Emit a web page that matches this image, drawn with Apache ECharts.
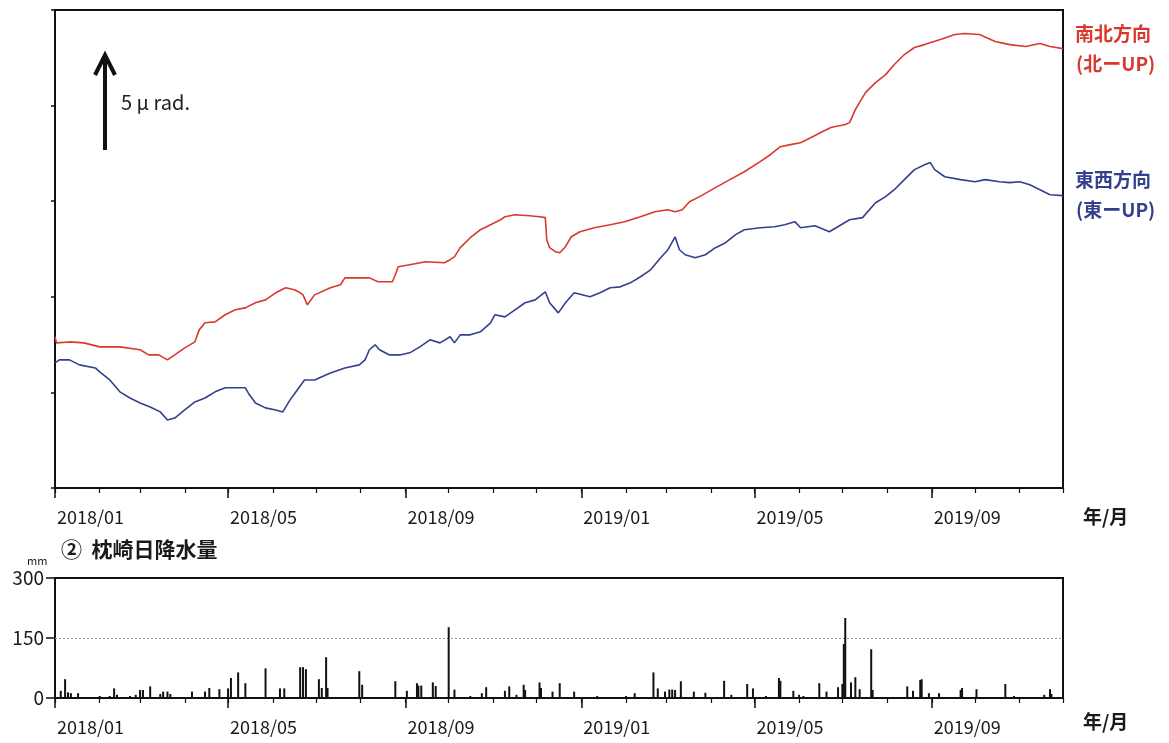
<!DOCTYPE html>
<html><head><meta charset="utf-8">
<script src="https://cdn.jsdelivr.net/npm/echarts@6/dist/echarts.min.js"></script>
<style>html,body{margin:0;padding:0;background:#fff}#c{width:1169px;height:743px}</style>
</head><body><div id="c"></div>
<script>
// 南北方向 tilt (μrad, relative)
const nsDates = ['2018-01-01','2018-01-02','2018-01-11','2018-01-21','2018-02-01','2018-02-15','2018-03-01','2018-03-07','2018-03-14','2018-03-20',
'2018-03-25','2018-04-01','2018-04-08','2018-04-11','2018-04-15','2018-04-22','2018-04-29','2018-05-06','2018-05-13','2018-05-20',
'2018-05-27','2018-06-03','2018-06-10','2018-06-16','2018-06-20','2018-06-22','2018-06-25','2018-06-30','2018-07-11','2018-07-18',
'2018-07-21','2018-07-28','2018-08-07','2018-08-13','2018-08-23','2018-08-25','2018-08-27','2018-09-04','2018-09-15','2018-09-28',
'2018-10-02','2018-10-05','2018-10-09','2018-10-16','2018-10-23','2018-10-30','2018-11-06','2018-11-09','2018-11-16','2018-11-26',
'2018-12-03','2018-12-07','2018-12-08','2018-12-10','2018-12-14','2018-12-17','2018-12-21','2018-12-25','2018-12-31','2019-01-10',
'2019-01-21','2019-01-31','2019-02-11','2019-02-21','2019-03-02','2019-03-07','2019-03-12','2019-03-17','2019-03-24','2019-04-04',
'2019-04-14','2019-04-24','2019-05-05','2019-05-12','2019-05-19','2019-05-26','2019-06-02','2019-06-09','2019-06-16','2019-06-23',
'2019-07-03','2019-07-06','2019-07-10','2019-07-17','2019-07-24','2019-07-31','2019-08-06','2019-08-13','2019-08-20','2019-08-27',
'2019-09-07','2019-09-17','2019-09-24','2019-10-04','2019-10-15','2019-10-25','2019-11-05','2019-11-15','2019-11-22','2019-12-01'];
const nsValues = [7.91,7.59,7.64,7.59,7.38,7.38,7.23,6.96,6.96,6.70,
6.96,7.33,7.64,8.27,8.64,8.69,9.06,9.32,9.42,9.69,
9.84,10.21,10.47,10.37,10.21,10.10,9.58,10.10,10.47,10.63,
10.99,10.99,10.99,10.79,10.79,11.15,11.57,11.68,11.83,11.78,
11.94,12.09,12.57,13.09,13.51,13.77,14.03,14.19,14.29,14.24,
14.19,14.14,12.98,12.57,12.36,12.30,12.62,13.14,13.40,13.61,
13.77,13.93,14.19,14.45,14.55,14.45,14.55,14.97,15.24,15.71,
16.13,16.54,17.07,17.43,17.85,17.96,18.06,18.32,18.59,18.85,
19.01,19.11,19.79,20.68,21.20,21.62,22.15,22.67,23.04,23.19,
23.46,23.72,23.77,23.72,23.35,23.19,23.09,23.25,23.09,22.98];

// 東西方向 tilt (μrad, relative)
const ewDates = ['2018-01-01','2018-01-04','2018-01-11','2018-01-18','2018-01-29','2018-02-01','2018-02-08','2018-02-15','2018-02-22','2018-03-01',
'2018-03-08','2018-03-15','2018-03-20','2018-03-25','2018-04-01','2018-04-08','2018-04-15','2018-04-22','2018-04-29','2018-05-13',
'2018-05-15','2018-05-20','2018-05-27','2018-06-03','2018-06-08','2018-06-13','2018-06-16','2018-06-23','2018-06-30','2018-07-11',
'2018-07-21','2018-07-31','2018-08-04','2018-08-07','2018-08-11','2018-08-14','2018-08-21','2018-08-28','2018-09-04','2018-09-11',
'2018-09-18','2018-09-25','2018-10-02','2018-10-05','2018-10-09','2018-10-16','2018-10-23','2018-10-30','2018-11-02','2018-11-09',
'2018-11-16','2018-11-23','2018-11-30','2018-12-07','2018-12-10','2018-12-16','2018-12-21','2018-12-27','2019-01-07','2019-01-14',
'2019-01-21','2019-01-28','2019-02-04','2019-02-11','2019-02-18','2019-02-25','2019-03-02','2019-03-07','2019-03-10','2019-03-14',
'2019-03-21','2019-03-28','2019-04-04','2019-04-11','2019-04-18','2019-04-24','2019-05-05','2019-05-15','2019-05-22','2019-05-29',
'2019-06-02','2019-06-12','2019-06-22','2019-07-06','2019-07-15','2019-07-24','2019-07-31','2019-08-06','2019-08-13','2019-08-20',
'2019-08-27','2019-08-31','2019-09-03','2019-09-10','2019-09-21','2019-10-01','2019-10-08','2019-10-18','2019-10-25','2019-11-01',
'2019-11-08','2019-11-15','2019-11-22','2019-12-01'];
const ewValues = [6.54,6.70,6.70,6.44,6.28,6.07,5.65,5.03,4.71,4.45,
4.24,3.98,3.56,3.66,4.08,4.50,4.71,5.03,5.24,5.24,
4.97,4.45,4.19,4.08,3.98,4.61,4.92,5.65,5.65,6.02,
6.28,6.44,6.70,7.23,7.49,7.23,6.96,6.96,7.07,7.38,
7.75,7.59,7.91,7.59,8.01,8.01,8.17,8.64,9.06,8.95,
9.32,9.69,9.84,10.26,9.69,9.16,9.69,10.21,10.00,10.21,
10.47,10.52,10.73,11.05,11.41,12.04,12.46,13.14,12.46,12.20,
12.04,12.20,12.57,12.83,13.25,13.51,13.61,13.66,13.77,13.93,
13.61,13.72,13.40,14.03,14.14,14.92,15.24,15.60,16.13,16.65,
16.91,17.02,16.65,16.28,16.13,16.02,16.13,16.02,15.97,16.02,
15.86,15.60,15.34,15.29];

// 枕崎 daily precipitation (mm)
const rainDates = ['2018-01-05','2018-01-08','2018-01-10','2018-01-12','2018-01-17','2018-02-01','2018-02-08','2018-02-11','2018-02-13','2018-02-22',
'2018-02-26','2018-03-01','2018-03-03','2018-03-08','2018-03-15','2018-03-17','2018-03-20','2018-03-22','2018-04-06','2018-04-15',
'2018-04-18','2018-04-25','2018-05-01','2018-05-03','2018-05-08','2018-05-13','2018-05-27','2018-06-06','2018-06-09','2018-06-20',
'2018-06-22','2018-06-24','2018-07-03','2018-07-05','2018-07-08','2018-07-09','2018-07-31','2018-08-02','2018-08-25','2018-09-02',
'2018-09-09','2018-09-10','2018-09-12','2018-09-20','2018-09-22','2018-10-01','2018-10-05','2018-10-16','2018-10-24','2018-10-27',
'2018-11-09','2018-11-12','2018-11-17','2018-11-22','2018-11-23','2018-12-03','2018-12-04','2018-12-12','2018-12-17','2018-12-27',
'2019-01-12','2019-02-01','2019-02-07','2019-02-20','2019-02-23','2019-02-28','2019-03-03','2019-03-05','2019-03-07','2019-03-11',
'2019-03-20','2019-03-28','2019-04-10','2019-04-15','2019-04-26','2019-04-30','2019-05-09','2019-05-18','2019-05-19','2019-05-28',
'2019-06-01','2019-06-04','2019-06-15','2019-06-20','2019-06-28','2019-07-01','2019-07-02','2019-07-03','2019-07-07','2019-07-10',
'2019-07-13','2019-07-21','2019-07-22','2019-08-15','2019-08-19','2019-08-24','2019-08-25','2019-08-30','2019-09-06','2019-09-21',
'2019-09-22','2019-10-02','2019-10-22','2019-10-28','2019-11-18','2019-11-22','2019-11-23'];
const rainValues = [18,47,14,12,12,5,5,24,8,5,
8,20,20,29,10,16,16,10,16,16,
25,22,24,50,64,37,74,24,24,77,
77,72,47,25,102,25,67,33,42,18,
37,31,31,39,30,177,21,5,12,27,
18,29,8,33,20,39,25,16,37,16,
5,5,12,64,24,16,21,21,20,42,
16,13,43,8,35,24,5,50,43,18,
8,5,37,16,27,35,135,200,39,52,
22,122,20,29,18,45,47,12,12,20,
25,22,35,5,8,22,10];

// axis ticks
const labelMonths = ['2018-01-01','2018-05-01','2018-09-01','2019-01-01','2019-05-01','2019-09-01'];
const allMonths = ['2018-01-01','2018-02-01','2018-03-01','2018-04-01','2018-05-01','2018-06-01','2018-07-01','2018-08-01','2018-09-01','2018-10-01','2018-11-01','2018-12-01',
'2019-01-01','2019-02-01','2019-03-01','2019-04-01','2019-05-01','2019-06-01','2019-07-01','2019-08-01','2019-09-01','2019-10-01','2019-11-01','2019-12-01'];
const xMin = '2018-01-01', xMax = '2019-12-01';
const rainRefLine = 150;

function ts(s){ const p = s.split('-').map(Number); return new Date(p[0], p[1]-1, p[2]).getTime(); }
const zip = (a,b) => a.map((d,i)=>[ts(d), b[i]]);

const FONT = '"Noto Sans CJK JP", "Noto Sans", sans-serif';
const fmt = v => { const d = new Date(v); return d.getFullYear() + '/' + String(d.getMonth()+1).padStart(2,'0'); };

function majorAxis(gi){
  return {type:'value', gridIndex:gi, min:ts(xMin), max:ts(xMax), position:'bottom', scale:true,
    axisLine:{show:true, lineStyle:{color:'#111', width:2}},
    axisTick:{show:true, length:10, customValues:labelMonths.map(ts), lineStyle:{color:'#111', width:1.5}},
    axisLabel:{show:true, customValues:labelMonths.map(ts), formatter:fmt, align:'left', margin:20,
      fontFamily:FONT, fontSize:18, color:'#1a1a1a', padding:[0,0,0,2]},
    splitLine:{show:false}};
}
function minorAxis(gi){
  return {type:'value', gridIndex:gi, min:ts(xMin), max:ts(xMax), position:'bottom', offset:0, scale:true,
    axisLine:{show:false},
    axisTick:{show:true, length:5, customValues:allMonths.map(ts), lineStyle:{color:'#111', width:1.2}},
    axisLabel:{show:false}, splitLine:{show:false}};
}

const chart = echarts.init(document.getElementById('c'), null, {renderer:'canvas'});
chart.setOption({
  animation:false,
  backgroundColor:'#fff',
  grid:[
    {left:55, top:10, width:1008, height:478, show:true, borderColor:'#111', borderWidth:2, backgroundColor:'transparent'},
    {left:55, top:578, width:1008, height:120, show:true, borderColor:'#111', borderWidth:2, backgroundColor:'transparent'}
  ],
  xAxis:[majorAxis(0), minorAxis(0), majorAxis(1), minorAxis(1)],
  yAxis:[
    {type:'value', gridIndex:0, min:0, max:25, interval:5,
      axisLine:{show:true, lineStyle:{color:'#111', width:2}},
      axisTick:{show:true, length:4, lineStyle:{color:'#111', width:1.5}},
      axisLabel:{show:false}, splitLine:{show:false}},
    {type:'value', gridIndex:1, min:0, max:300, interval:150,
      axisLine:{show:true, lineStyle:{color:'#111', width:2}},
      axisTick:{show:true, length:9, lineStyle:{color:'#111', width:1.5}},
      axisLabel:{show:true, fontFamily:FONT, fontSize:19, color:'#1a1a1a', margin:11},
      splitLine:{show:false}}
  ],
  series:[
    {type:'line', name:'南北方向', xAxisIndex:0, yAxisIndex:0, data:zip(nsDates, nsValues),
      showSymbol:false, lineStyle:{color:'#d8392e', width:1.6}, itemStyle:{color:'#d8392e'}},
    {type:'line', name:'東西方向', xAxisIndex:0, yAxisIndex:0, data:zip(ewDates, ewValues),
      showSymbol:false, lineStyle:{color:'#34408c', width:1.6}, itemStyle:{color:'#34408c'}},
    {type:'bar', name:'日降水量', xAxisIndex:2, yAxisIndex:1, data:zip(rainDates, rainValues),
      barWidth:2, itemStyle:{color:'#111'}, z:3,
      markLine:{silent:true, symbol:'none', label:{show:false}, z:1,
        lineStyle:{color:'#9a9a9a', width:1, type:[2,2]}, data:[{yAxis:rainRefLine}]}}
  ],
  graphic:[
    {type:'line', shape:{x1:105, y1:150, x2:105, y2:58}, style:{stroke:'#111', lineWidth:4}},
    {type:'polyline', shape:{points:[[95,75],[105,55],[115,75]]}, style:{stroke:'#111', lineWidth:4, fill:null}},
    {type:'text', left:121, top:92, style:{text:'5 μ rad.', font:'20px ' + FONT, fill:'#222'}},
    {type:'text', left:1075, top:24, style:{text:'南北方向', font:'bold 19px ' + FONT, fill:'#d8392e'}},
    {type:'text', left:1076, top:54, style:{text:'(北ーUP)', font:'bold 19px ' + FONT, fill:'#d8392e'}},
    {type:'text', left:1075, top:170, style:{text:'東西方向', font:'bold 19px ' + FONT, fill:'#34408c'}},
    {type:'text', left:1076, top:200, style:{text:'(東ーUP)', font:'bold 19px ' + FONT, fill:'#34408c'}},
    {type:'text', left:1083, top:507, style:{text:'年/月', font:'bold 19px ' + FONT, fill:'#1a1a1a'}},
    {type:'text', left:1083, top:712, style:{text:'年/月', font:'bold 19px ' + FONT, fill:'#1a1a1a'}},
    {type:'text', left:61, top:539, style:{text:'②  枕崎日降水量', font:'bold 21px ' + FONT, fill:'#1a1a1a'}},
    {type:'text', left:27, top:555, style:{text:'mm', font:'11px ' + FONT, fill:'#1a1a1a'}}
  ]
});
</script>
</body></html>
